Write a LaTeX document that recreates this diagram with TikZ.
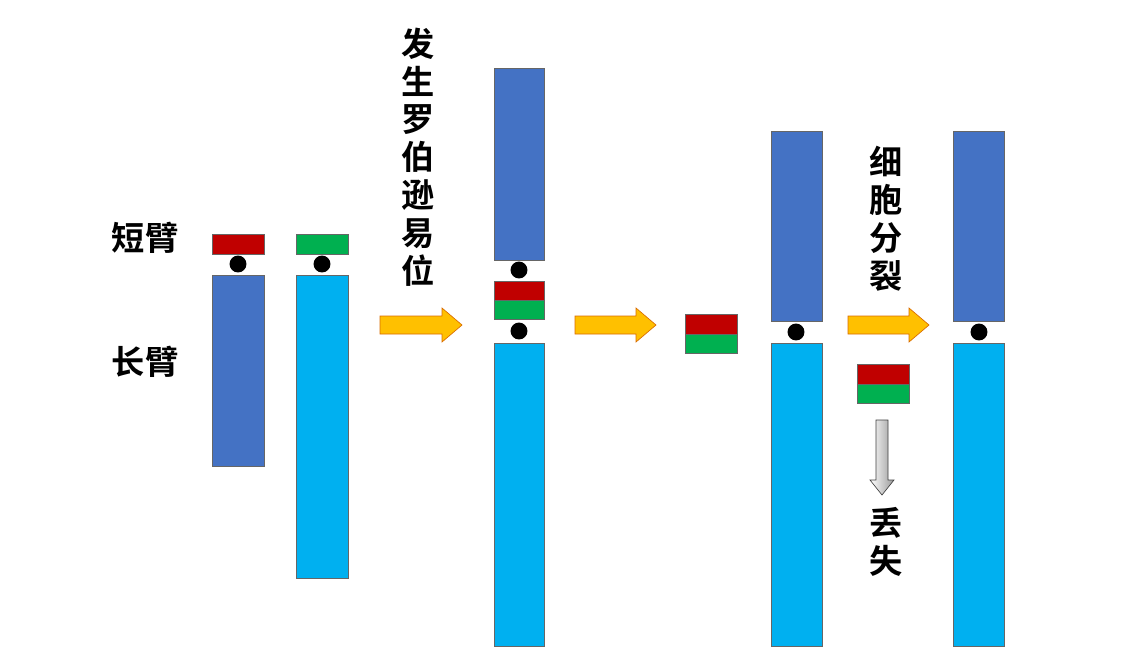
\documentclass[tikz,border=0pt]{standalone}
\usepackage{fontspec}
\newfontfamily\cjk{Noto Sans CJK SC}[BoldFont={Noto Sans CJK SC Bold}]
\definecolor{dkb}{HTML}{4472C4}
\definecolor{ltb}{HTML}{00B0F0}
\definecolor{rd}{HTML}{C00000}
\definecolor{gn}{HTML}{00B050}
\definecolor{yl}{HTML}{FFC000}
\begin{document}
\begin{tikzpicture}[x=0.0264583cm,y=-0.0264583cm,
 seg/.style={draw=black!60,line width=0.4pt},
 dot/.style={circle,fill=black,inner sep=0,minimum size=17pt*0.75},
 yarr/.style={fill=yl,draw=orange!85!black,line width=0.5pt},
 lbl/.style={font=\cjk\bfseries\fontsize{25}{28.5}\selectfont,align=center,inner sep=0}]
\useasboundingbox (0,0) rectangle (1132,657);
\fill[white] (0,0) rectangle (1132,657);
% chromosome 1
\filldraw[seg,fill=rd] (212,234) rectangle (264,254);
\node[dot] (d1) at (238,264) {};
\filldraw[seg,fill=dkb] (212,275) rectangle (264,466);
% chromosome 2
\filldraw[seg,fill=gn] (296,234) rectangle (348,254);
\node[dot] (d2) at (322,264) {};
\filldraw[seg,fill=ltb] (296,275) rectangle (348,578);
\node[lbl] (t1) at (145,238) {短臂};
\node[lbl] (t2) at (145,362) {长臂};
% arrow 1
\draw[yarr] (380,316) -- (442,316) -- (442,308) -- (462,325) -- (442,342) -- (442,334) -- (380,334) -- cycle;
\node[lbl] (t3) at (418,157) {发\\生\\罗\\伯\\逊\\易\\位};
% chromosome 3
\filldraw[seg,fill=dkb] (494,68) rectangle (544,260);
\node[dot] (d3) at (519,270) {};
\filldraw[seg,fill=rd] (494,281) rectangle (544,300);
\filldraw[seg,fill=gn] (494,300) rectangle (544,319);
\node[dot] (d4) at (519,331) {};
\filldraw[seg,fill=ltb] (494,343) rectangle (544,646);
% arrow 2
\draw[yarr] (575,316) -- (636,316) -- (636,308) -- (656,325) -- (636,342) -- (636,334) -- (575,334) -- cycle;
\filldraw[seg,fill=rd] (685,314) rectangle (737,334);
\filldraw[seg,fill=gn] (685,334) rectangle (737,353);
% chromosome 4
\filldraw[seg,fill=dkb] (771,131) rectangle (822,321);
\node[dot] (d5) at (796,332) {};
\filldraw[seg,fill=ltb] (771,343) rectangle (822,646);
% arrow 3
\draw[yarr] (848,316) -- (909,316) -- (909,308) -- (929,325) -- (909,342) -- (909,334) -- (848,334) -- cycle;
\node[lbl] (t4) at (886,219) {细\\胞\\分\\裂};
\filldraw[seg,fill=rd] (857,364) rectangle (909,384);
\filldraw[seg,fill=gn] (857,384) rectangle (909,403);
\draw[left color=white,right color=black!40,draw=black!75,line width=0.5pt]
 (876,420) -- (888,420) -- (888,480) -- (894,480) -- (882,495) -- (870,480) -- (876,480) -- cycle;
\node[lbl] (t5) at (886,542) {丢\\失};
% chromosome 5
\filldraw[seg,fill=dkb] (953,131) rectangle (1004,321);
\node[dot] (d6) at (979,332) {};
\filldraw[seg,fill=ltb] (953,343) rectangle (1004,646);
\end{tikzpicture}
\end{document}
